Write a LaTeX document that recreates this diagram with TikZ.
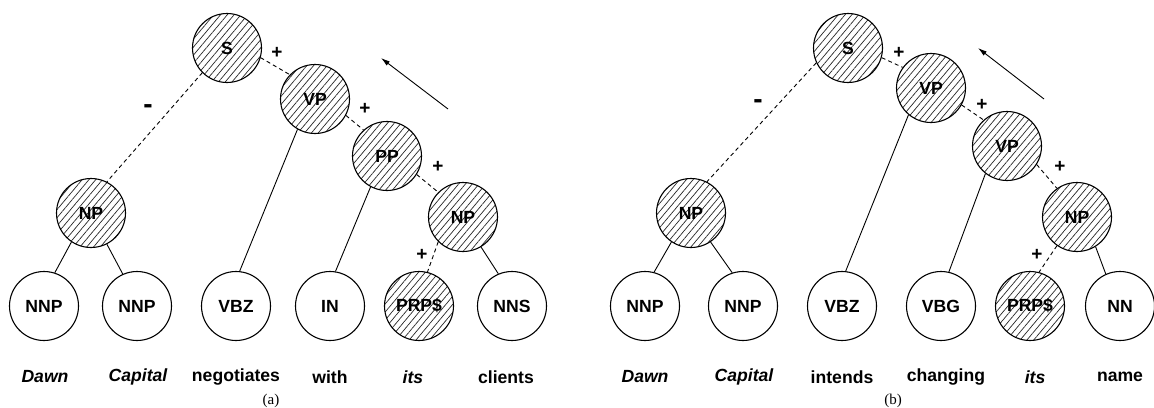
\documentclass[tikz,border=0pt]{standalone}
\usepackage{fontspec}
\setmainfont{Liberation Serif}
\setsansfont{Liberation Sans}
\usetikzlibrary{patterns.meta,arrows.meta}
\tikzset{
  tag/.style={circle,draw,line width=0.55pt,minimum size=34.5pt,inner sep=0pt,
    font=\sffamily\bfseries\fontsize{8.8}{10}\selectfont},
  hatched/.style={tag,pattern={Lines[angle=50,distance=2.6pt,line width=0.35pt]},pattern color=black!85},
  dsh/.style={line width=0.45pt,dash pattern=on 2pt off 1.6pt},
  link/.style={line width=0.45pt},
  sign/.style={inner sep=0pt,font=\sffamily\bfseries\fontsize{9.5}{11}\selectfont},
  minus/.style={inner sep=0pt,font=\sffamily\bfseries\fontsize{14}{16}\selectfont},
  word/.style={inner sep=0pt,font=\sffamily\bfseries\fontsize{8.8}{10}\selectfont},
  iword/.style={word,font=\sffamily\bfseries\itshape\fontsize{8.8}{10}\selectfont},
  captext/.style={inner sep=0pt,font=\rmfamily\fontsize{7.5}{9}\selectfont},
  flowarrow/.style={line width=0.45pt,-{Latex[length=4.5pt,width=2.6pt]}}
}
\begin{document}
\begin{tikzpicture}[x=0.5pt,y=-0.5pt]
\useasboundingbox (0,0) rectangle (1154,407);

% ---------- tree (a) ----------
\node[hatched] (Sa)   at (227,48)  {S};
\node[hatched] (VPa)  at (315,99)  {VP};
\node[hatched] (PPa)  at (387,156) {PP};
\node[hatched] (NPa2) at (463,217) {NP};
\node[hatched] (NPa1) at (91,213)  {NP};
\node[tag]     (NNPa1) at (44,306)  {NNP};
\node[tag]     (NNPa2) at (137,306) {NNP};
\node[tag]     (VBZa)  at (236,306) {VBZ};
\node[tag]     (INa)   at (330,306) {IN};
\node[hatched] (PRPa)  at (419,306) {PRP\$};
\node[tag]     (NNSa)  at (512,306) {NNS};

\draw[dsh] (Sa.344) -- (VPa.136);
\draw[dsh] (Sa.225) -- (NPa1.63);
\draw[dsh] (VPa.332) -- (PPa.132);
\draw[dsh] (PPa.328) -- (NPa2.135);
\draw[dsh] (NPa2.225) -- (PRPa.76);
\draw[link] (NPa1.236) -- (NNPa1.72);
\draw[link] (NPa1.297) -- (NNPa2.114);
\draw[link] (VPa.240) -- (VBZa.84);
\draw[link] (PPa.242) -- (INa.81);
\draw[link] (NPa2.301) -- (NNSa.113);

\node[sign] (pa1) at (277,53)  {+};
\node[sign] (pa2) at (365,109) {+};
\node[sign] (pa3) at (438,167) {+};
\node[sign] (pa4) at (422,255) {+};
\node[minus] (ma1) at (148,109) {-};

\coordinate (arrA1) at (448,109);
\coordinate (arrA2) at (381,58);
\draw[flowarrow] (arrA1) -- (arrA2);

\node[iword] (wa1) at (45,377)  {Dawn};
\node[iword] (wa2) at (138,377) {Capital};
\node[word]  (wa3) at (236,377) {negotiates};
\node[word]  (wa4) at (330,377) {with};
\node[iword] (wa5) at (413,377) {its};
\node[word]  (wa6) at (506,377) {clients};
\node[captext] (capa) at (271,401) {(a)};

% ---------- tree (b) ----------
\node[hatched] (Sb)   at (848,48)  {S};
\node[hatched] (VPb1) at (931,88)  {VP};
\node[hatched] (VPb2) at (1007,146) {VP};
\node[hatched] (NPb2) at (1077,217) {NP};
\node[hatched] (NPb1) at (691,213)  {NP};
\node[tag]     (NNPb1) at (645,306)  {NNP};
\node[tag]     (NNPb2) at (743,306)  {NNP};
\node[tag]     (VBZb)  at (842,306)  {VBZ};
\node[tag]     (VBGb)  at (941,306)  {VBG};
\node[hatched] (PRPb)  at (1030,306) {PRP\$};
\node[tag]     (NNb)   at (1120,306) {NN};

\draw[dsh] (Sb.344) -- (VPb1.144);
\draw[dsh] (Sb.205) -- (NPb1.63);
\draw[dsh] (VPb1.331) -- (VPb2.132);
\draw[dsh] (VPb2.328) -- (NPb2.125);
\draw[dsh] (NPb2.235) -- (PRPb.75);
\draw[link] (NPb1.236) -- (NNPb1.75);
\draw[link] (NPb1.304) -- (NNPb2.108);
\draw[link] (VPb1.230) -- (VBZb.84);
\draw[link] (VPb2.232) -- (VBGb.77);
\draw[link] (NPb2.302) -- (NNb.114);

\node[sign] (pb1) at (899,53)   {+};
\node[sign] (pb2) at (982,105)  {+};
\node[sign] (pb3) at (1060,167) {+};
\node[sign] (pb4) at (1037,255) {+};
\node[minus] (mb1) at (758,104) {-};

\coordinate (arrB1) at (1044,99);
\coordinate (arrB2) at (978,48);
\draw[flowarrow] (arrB1) -- (arrB2);

\node[iword] (wb1) at (645,377)  {Dawn};
\node[iword] (wb2) at (744,377)  {Capital};
\node[word]  (wb3) at (842,377)  {intends};
\node[word]  (wb4) at (946,377)  {changing};
\node[iword] (wb5) at (1035,377) {its};
\node[word]  (wb6) at (1120,377) {name};
\node[captext] (capb) at (893,401) {(b)};
\end{tikzpicture}
\end{document}
